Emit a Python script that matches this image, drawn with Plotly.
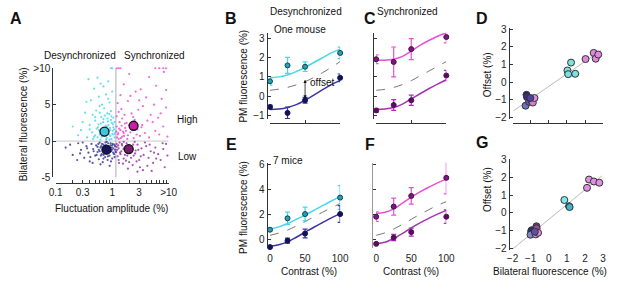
import plotly.graph_objects as go

W, H = 617, 285
def fx(p): return p / W
def fy(p): return 1 - p / H

# ---------------- DATA ----------------
# Panel A scatter (fluctuation amplitude %, bilateral fluorescence %); >10 plotted at 10
desync_high_x = [0.38,0.55,0.62,0.48,0.7,0.85,0.42,0.35,0.58,0.66,0.78,0.9,1.0,0.52,0.45,0.6,0.72,0.82,0.95,1.05,
                 0.3,0.4,0.5,0.56,0.63,0.7,0.77,0.84,0.91,0.98,1.08,0.2,0.44,0.5,0.58,0.65,0.71,0.8,0.87,0.93,
                 1.0,1.1,0.36,0.46,0.62,0.75,0.9,1.05,0.55,0.68,0.8,0.97,1.1,0.28,1.0,0.95,0.6,0.74,0.86,0.5,
                 0.62,0.67,0.73,0.76,0.81,0.88,0.92,0.97,1.02,1.07,0.53,0.57,0.69,0.83,0.89,1.03,0.48,0.6,0.78,0.95,
                 1.12,0.4,0.64,0.33,0.85,0.25]
desync_high_y = [8.5,8.7,7.9,7.2,7.5,8.2,5.6,5.4,6.1,5.0,6.4,5.3,6.8,4.2,3.6,3.9,4.5,3.8,4.1,3.2,
                 2.6,2.2,2.8,1.9,2.4,3.0,2.1,2.7,1.8,2.5,1.6,2.0,1.2,0.8,1.5,0.6,1.1,0.4,1.3,0.7,
                 1.0,0.5,0.5,0.3,0.2,0.9,0.2,1.9,0.5,1.8,1.6,3.4,2.6,1.5,10,10,4.8,3.5,2.2,3.3,
                 1.2,1.6,0.7,1.3,2.0,0.9,1.5,0.3,1.4,0.9,1.7,2.3,2.6,3.1,3.7,2.3,0.6,0.9,0.2,2.9,
                 1.1,1.6,3.3,3.9,5.8,0.8]
desync_low_x = [0.15,0.2,0.25,0.28,0.32,0.35,0.38,0.4,0.43,0.46,0.5,0.52,0.55,0.58,0.6,0.62,0.65,0.68,0.7,0.72,
                0.75,0.78,0.8,0.83,0.85,0.88,0.9,0.93,0.96,1.0,1.02,1.05,1.08,1.12,1.14,0.66,0.74,0.86,0.98,0.55,
                0.45,0.62,0.9,0.3,0.24,0.8,0.95,0.7,1.1,0.58,
                0.6,0.64,0.69,0.73,0.77,0.81,0.87,0.91,0.94,0.99,1.04,1.09,0.53,0.57,0.47,0.41,0.36,0.7,0.84,1.0,
                0.63,0.76,0.18,0.27,1.12]
desync_low_y = [-0.9,-1.9,-0.3,-1.2,-2.3,-0.7,-1.6,-2.8,-0.4,-1.1,-2.0,-0.6,-1.5,-2.5,-0.2,-0.9,-1.8,-2.9,-0.5,-1.3,
                -2.2,-0.8,-1.7,-2.6,-0.3,-1.1,-2.0,-0.6,-1.4,-2.4,-0.4,-1.0,-1.8,-0.7,-1.5,-0.4,-1.0,-1.6,-0.9,-0.8,
                -3.0,-3.2,-3.4,-0.2,-2.6,-0.1,-2.8,-1.9,-2.2,-1.2,
                -1.4,-0.7,-1.2,-1.6,-0.6,-1.3,-0.9,-1.5,-0.3,-1.2,-1.6,-0.5,-1.9,-0.4,-1.4,-2.2,-1.0,-2.4,-2.1,-0.6,
                -2.0,-0.2,-0.5,-1.7,-1.2]
sync_high_x = [1.2,1.3,1.4,5.8,6.8,8.0,9.0,2.0,4.5,8.2,1.6,3.2,6.0,1.4,2.6,4.0,
               7.5,1.25,1.9,3.5,5.5,9.0,1.3,2.2,2.9,4.8,6.5,1.5,1.8,2.5,3.4,5.2,8.0,1.2,1.4,1.7,
               2.1,2.8,3.8,1.25,1.5,1.9,2.4,3.1,4.5,6.8,1.3,1.6,2.0,9.5,1.18,1.35,
               1.22,1.28,1.33,1.42,1.47,1.55,1.62,1.68,1.75,1.85,2.2,2.35,2.7,3.3,4.2,5.8,1.2,1.45,2.1,3.0,
               7.2,9.0,1.65]
sync_high_y = [10,10,10,10,10,10,10,9.2,8.8,9.5,7.8,7.1,7.6,6.3,6.8,6.0,
               5.8,5.2,5.5,4.8,5.0,4.6,4.0,3.8,4.3,3.6,3.2,3.1,2.5,2.9,2.2,2.6,2.0,2.0,1.5,1.8,
               1.2,1.6,1.1,0.9,0.6,0.8,0.4,0.7,0.5,0.9,0.3,1.1,2.2,0.6,1.3,2.6,
               0.5,1.1,1.7,0.4,2.1,1.3,0.7,2.4,1.4,0.3,1.7,3.3,0.9,1.9,2.8,1.4,3.4,4.4,6.2,5.6,
               3.8,7.0,3.6]
sync_low_x = [1.2,1.3,1.4,1.5,1.6,1.7,1.8,1.9,2.0,2.2,2.4,2.6,2.8,3.0,3.3,3.6,4.0,4.4,4.8,5.3,
              5.8,6.5,7.2,8.0,9.0,1.25,1.45,1.65,1.85,2.1,2.3,2.7,3.1,3.5,4.2,5.0,1.18,1.35,1.55,3.8,
              6.0,8.5,2.5,1.75,1.2,1.3,
              1.22,1.28,1.38,1.48,1.58,1.68,1.78,1.95,2.15,2.35,2.55,2.9,3.2,4.6,5.5,7.8,1.32,1.9,2.8,9.5,1.6]
sync_low_y = [-0.4,-1.0,-1.8,-0.6,-2.4,-1.2,-0.3,-1.6,-2.9,-0.8,-2.0,-1.3,-0.5,-2.6,-1.0,-1.9,-0.7,-2.3,-1.4,-3.0,
              -0.9,-1.8,-2.6,-1.1,-0.4,-2.1,-1.4,-0.9,-2.0,-1.5,-3.3,-2.8,-3.6,-4.0,-3.4,-4.1,-1.5,-0.2,-3.1,-0.2,
              -2.4,-3.6,-0.1,-2.7,-0.8,-2.6,
              -1.2,-0.6,-1.6,-0.4,-1.1,-1.9,-0.7,-1.3,-2.3,-0.5,-1.7,-1.2,-2.1,-0.5,-1.6,-0.3,-3.0,-3.8,-4.2,-2.0,-0.1]
# group means
mean_x = [0.73, 0.79, 2.39, 1.96]
mean_y = [1.3, -1.18, 2.1, -1.1]
a_xticks = [0.1, 0.3, 1, 3, 10]
a_xticklabels = ['0.1', '0.3', '1', '3', '>10']
a_yticks = [-5, 0, 5, 10]
a_yticklabels = ['-5', '0', '5', '>10']

# Panels B-C-E-F: contrast responses
contrast = [0, 25, 50, 100]
fit_contrast = [0, 12.5, 25, 37.5, 50, 62.5, 75, 87.5, 100]

b_high = [0.77, 1.6, 1.53, 2.25]; b_high_err = [0.2, 0.42, 0.25, 0.3]
b_low = [-0.57, -0.88, -0.22, 0.95]; b_low_err = [0.1, 0.3, 0.15, 0.2]
b_high_fit = [0.95, 1.0, 1.1, 1.28, 1.5, 1.75, 2.0, 2.25, 2.45]
b_low_fit = [-0.7, -0.68, -0.6, -0.45, -0.22, 0.05, 0.33, 0.6, 0.82]
b_mid_fit = [0.3, 0.36, 0.45, 0.58, 0.75, 0.97, 1.22, 1.5, 1.8]

c_high = [1.92, 1.78, 2.45, 3.08]; c_high_err = [0.23, 0.78, 0.55, 0.3]
c_low = [-0.75, -0.47, -0.22, 1.07]; c_low_err = [0.1, 0.28, 0.27, 0.27]
c_high_fit = [1.88, 1.87, 1.92, 2.07, 2.35, 2.65, 2.9, 3.12, 3.3]
c_low_fit = [-0.7, -0.68, -0.6, -0.42, -0.15, 0.12, 0.38, 0.62, 0.85]
c_mid_fit = [0.3, 0.35, 0.45, 0.6, 0.8, 1.05, 1.3, 1.55, 1.8]

e_high = [0.75, 1.66, 2.0, 3.32]; e_high_err = [0.1, 0.5, 0.55, 0.95]
e_low = [-0.64, -0.13, 0.44, 2.0]; e_low_err = [0.08, 0.2, 0.35, 0.67]
e_high_fit = [0.8, 0.98, 1.25, 1.58, 1.92, 2.3, 2.68, 3.05, 3.4]
e_low_fit = [-0.58, -0.45, -0.22, 0.15, 0.55, 0.95, 1.33, 1.7, 2.04]
e_mid_fit = [0.3, 0.48, 0.72, 1.05, 1.4, 1.78, 2.15, 2.5, 2.85]

f_high = [1.79, 2.6, 3.45, 4.9]; f_high_err = [0.38, 0.68, 0.66, 1.28]
f_low = [-0.38, 0.12, 0.56, 1.79]; f_low_err = [0.08, 0.25, 0.32, 0.54]
f_high_fit = [2.05, 2.15, 2.42, 2.88, 3.35, 3.78, 4.15, 4.5, 4.8]
f_low_fit = [-0.38, -0.25, 0.05, 0.45, 0.9, 1.3, 1.66, 2.0, 2.3]
f_mid_fit = [0.3, 0.5, 0.8, 1.18, 1.58, 1.98, 2.35, 2.7, 3.0]

# Panel D (one mouse) and G (7 mice): bilateral fluorescence vs offset
d_x = [-1.28, -1.23, -1.2, -1.09, -0.97, -0.88, -0.79, -1.02, 1.03, 1.07, 1.23, 1.46, 2.03, 2.48, 2.59, 2.73]
d_y = [-1.35, -0.73, -0.86, -1.13, -1.04, -1.17, -0.91, -0.91, 0.66, 0.45, 1.11, 0.47, 1.31, 1.66, 1.33, 1.57]
d_line_x = [-1.95, 2.9]
d_line_y = [-1.64, 1.82]
g_x = [-0.97, -0.94, -1.01, -0.68, -0.67, -0.72, -0.59, -0.77, 0.86, 1.12, 1.15, 2.11, 2.22, 2.49, 2.79]
g_y = [-1.04, -0.98, -1.24, -0.76, -0.87, -1.22, -1.13, -1.07, 0.73, 0.38, 0.33, 1.42, 1.89, 1.78, 1.71]
g_line_x = [-1.98, 2.92]
g_line_y = [-2.04, 2.09]

# ---------------- STYLE ----------------
FONT = "Liberation Sans, Arial, sans-serif"
AX = '#333333'
CYAN_L, NAVY_L, MAG_L, PUR_L = '#46d6ef', '#3b34a3', '#e752d2', '#a533b3'
CYAN_M, NAVY_M, MAG_M, PUR_M = '#2a9fb3', '#121258', '#7a1a7e', '#5a0d5c'

d_colors = ['#6b74c4', '#2c2470', '#3a3090', '#7a50b0', '#9050a8', '#d080d8', '#e090e0', '#5040a0',
            '#7fe0e0', '#7fe0e0', '#7fe0e0', '#7fe0e0', '#e088e0', '#e088e0', '#e088e0', '#e088e0']
g_colors = ['#1e1e60', '#2c2a80', '#8088c8', '#8a3a8a', '#9a4a9a', '#d890d8', '#e090e0', '#6050a0',
            '#80e8e8', '#2a98aa', '#40b8c8', '#e090e0', '#e090e0', '#e090e0', '#e090e0']

fig = go.Figure()

def xax(dom, rng, pos, **kw):
    d = dict(domain=[fx(dom[0]), fx(dom[1])], range=rng, anchor='free', position=fy(pos),
             showgrid=False, zeroline=False, showline=True, linecolor=AX, linewidth=1,
             ticks='inside', ticklen=3, tickcolor=AX, tickfont=dict(size=10, family=FONT, color='#222'))
    d.update(kw)
    return d

def yax(dom, rng, pos, **kw):
    d = dict(domain=[fy(dom[1]), fy(dom[0])], range=rng, anchor='free', position=fx(pos),
             showgrid=False, zeroline=False, showline=True, linecolor=AX, linewidth=1,
             ticks='inside', ticklen=3, tickcolor=AX, tickfont=dict(size=10, family=FONT, color='#222'))
    d.update(kw)
    return d

# ---- Panel A ----
a_minor = [0.1,0.2,0.3,0.4,0.5,0.6,0.7,0.8,0.9,1,2,3,4,5,6,7,8,9,10]
a_minor_text = [a_xticklabels[a_xticks.index(v)] if v in a_xticks else '' for v in a_minor]
fig.add_trace(go.Scatter(x=[0.1, 10], y=[0, 0], mode='lines', line=dict(color='#c8c8c8', width=1),
                         xaxis='x', yaxis='y', hoverinfo='skip'))
fig.add_trace(go.Scatter(x=[1.16, 1.16], y=[-5, 10], mode='lines', line=dict(color='#c8c8c8', width=1.5),
                         xaxis='x', yaxis='y', hoverinfo='skip'))
for xs, ys, col in [(desync_high_x, desync_high_y, '#3fd3ef'), (desync_low_x, desync_low_y, '#2a2a96'),
                    (sync_high_x, sync_high_y, '#ee44d2'), (sync_low_x, sync_low_y, '#8e2a9e')]:
    fig.add_trace(go.Scatter(x=xs, y=ys, mode='markers', marker=dict(size=2.2, color=col, opacity=0.8),
                             xaxis='x', yaxis='y', cliponaxis=False))
fig.add_trace(go.Scatter(x=mean_x, y=mean_y, mode='markers',
                         marker=dict(size=9, color=['#3ec6dd', '#15155e', '#c820a8', '#7d1a72'],
                                     line=dict(color='#111', width=1.3)),
                         xaxis='x', yaxis='y', cliponaxis=False))

layout = dict(
    xaxis=xax((50, 166), [-1, 1], 185, type='log', tickvals=a_minor, ticktext=a_minor_text, ticklen=3),
    yaxis=yax((65, 179), [-5, 10], 46.5, tickvals=a_yticks, ticktext=a_yticklabels),
)

# ---- contrast panels ----
def contrast_panel(n, hi, hi_err, lo, lo_err, hi_fit, lo_fit, mid_fit, hi_col, hi_m, lo_col, lo_m, hi_edge):
    xa, ya = f'x{n}', f'y{n}'
    fig.add_trace(go.Scatter(x=fit_contrast, y=mid_fit, mode='lines', line=dict(color='#777', width=1, dash='dash'),
                             line_shape='spline', xaxis=xa, yaxis=ya))
    fig.add_trace(go.Scatter(x=fit_contrast, y=hi_fit, mode='lines', line=dict(color=hi_col, width=1.5),
                             line_shape='spline', xaxis=xa, yaxis=ya))
    fig.add_trace(go.Scatter(x=fit_contrast, y=lo_fit, mode='lines', line=dict(color=lo_col, width=1.5),
                             line_shape='spline', xaxis=xa, yaxis=ya))
    fig.add_trace(go.Scatter(x=contrast, y=hi, mode='markers', cliponaxis=False,
                             error_y=dict(type='data', array=hi_err, color=hi_col, thickness=1.2, width=2.5),
                             marker=dict(size=5, color=hi_m, line=dict(color=hi_edge, width=1)),
                             xaxis=xa, yaxis=ya))
    fig.add_trace(go.Scatter(x=contrast, y=lo, mode='markers', cliponaxis=False,
                             error_y=dict(type='data', array=lo_err, color=lo_col, thickness=1.2, width=2.5),
                             marker=dict(size=5, color=lo_m, line=dict(color=lo_m, width=1)),
                             xaxis=xa, yaxis=ya))

contrast_panel(2, b_high, b_high_err, b_low, b_low_err, b_high_fit, b_low_fit, b_mid_fit,
               CYAN_L, CYAN_M, NAVY_L, NAVY_M, '#0b4450')
contrast_panel(3, c_high, c_high_err, c_low, c_low_err, c_high_fit, c_low_fit, c_mid_fit,
               MAG_L, MAG_M, PUR_L, PUR_M, '#4a0a4a')
contrast_panel(5, e_high, e_high_err, e_low, e_low_err, e_high_fit, e_low_fit, e_mid_fit,
               CYAN_L, CYAN_M, NAVY_L, NAVY_M, '#0b4450')
contrast_panel(6, f_high, f_high_err, f_low, f_low_err, f_high_fit, f_low_fit, f_mid_fit,
               MAG_L, MAG_M, PUR_L, PUR_M, '#4a0a4a')

top_y = [-1.2, 3.3]
bot_y = [-0.74, 6.11]
layout.update(
    xaxis2=xax((270, 342), [0, 100], 122, tickvals=[0, 50, 100], showticklabels=False),
    yaxis2=yax((28, 118), top_y, 266.5, tickvals=[-1, 0, 1, 2, 3]),
    xaxis3=xax((379, 451), [0, 100], 122, tickvals=[0, 50, 100], showticklabels=False),
    yaxis3=yax((28, 118), top_y, 375.5, tickvals=[-1, 0, 1, 2, 3], showticklabels=False),
    xaxis5=xax((270, 342), [0, 100], 256, tickvals=[0, 50, 100], showline=False, ticks=''),
    yaxis5=yax((163.6, 253), bot_y, 266.5, tickvals=[0, 2, 4, 6]),
    xaxis6=xax((379, 451), [0, 100], 256, tickvals=[0, 50, 100], showline=False, ticks=''),
    yaxis6=yax((163.6, 253), bot_y, 374.5, tickvals=[0, 2, 4, 6], showticklabels=False, linecolor='#999'),
)

# ---- Panels D and G ----
for n, xs, ys, lx, ly, cols in [(4, d_x, d_y, d_line_x, d_line_y, d_colors), (7, g_x, g_y, g_line_x, g_line_y, g_colors)]:
    fig.add_trace(go.Scatter(x=lx, y=ly, mode='lines', line=dict(color='#bbbbbb', width=1),
                             xaxis=f'x{n}', yaxis=f'y{n}'))
    fig.add_trace(go.Scatter(x=xs, y=ys, mode='markers', cliponaxis=False,
                             marker=dict(size=7, color=cols, line=dict(color='#333', width=1)),
                             xaxis=f'x{n}', yaxis=f'y{n}'))

layout.update(
    xaxis4=xax((519, 612), [-2, 3], 122, tickvals=[-2, -1, 0, 1, 2, 3], showticklabels=False),
    yaxis4=yax((23, 118), [-2.11, 3.08], 515, tickvals=[-2, -1, 0, 1, 2, 3]),
    xaxis7=xax((519, 612), [-2, 3], 256, tickvals=[-2, -1, 0, 1, 2, 3], showline=False, ticks=''),
    yaxis7=yax((160, 255), [-2.12, 3.04], 515, tickvals=[-2, -1, 0, 1, 2, 3]),
)

# ---- text ----
ann = []
def txt(s, px, py, size=10, bold=False, angle=0, xanchor='center'):
    ann.append(dict(text=f'<b>{s}</b>' if bold else s, x=fx(px), y=fy(py), xref='paper', yref='paper',
                    showarrow=False, textangle=angle, xanchor=xanchor, yanchor='middle',
                    font=dict(size=size, family=FONT, color='#111')))

for s, px, py in [('A', 9, 13), ('B', 230, 13), ('C', 373, 13), ('D', 488, 13),
                  ('E', 230, 145), ('F', 373, 145), ('G', 488, 143)]:
    txt(s, px, py, size=16, bold=True)

txt('Desynchronized', 75, 52)
txt('Synchronized', 151, 52)
txt('High', 185, 118)
txt('Low', 185, 157)
txt('Fluctuation amplitude (%)', 107, 211)
txt('Bilateral fluorescence (%)', 17, 124, angle=-90)
txt('Desynchronized', 307, 6)
txt('Synchronized', 411, 6)
txt('One mouse', 272, 25, xanchor='left')
txt('offset', 309, 80, xanchor='left')
txt('7 mice', 271, 161, xanchor='left')
txt('PM fluorescence (%)', 243, 73, angle=-90)
txt('PM fluorescence (%)', 242, 210, angle=-90)
txt('Contrast (%)', 310, 277)
txt('Contrast (%)', 415, 277)
txt('Offset (%)', 494, 72, angle=-90)
txt('Offset (%)', 494, 192, angle=-90)
txt('Bilateral fluorescence (%)', 557, 277)

# offset arrow in panel B
ann.append(dict(x=50, y=0.85, ax=50, ay=-0.2, xref='x2', yref='y2', axref='x2', ayref='y2',
                showarrow=True, arrowhead=2, startarrowhead=2, arrowside='end+start',
                arrowsize=0.8, arrowwidth=0.8, arrowcolor='#111', text=''))

layout.update(annotations=ann, width=W, height=H, autosize=False, showlegend=False,
              margin=dict(l=0, r=0, t=0, b=0), paper_bgcolor='white', plot_bgcolor='white',
              font=dict(family=FONT, size=10, color='#222'))
fig.update_layout(**layout)
fig.write_html("out.html", config={'displayModeBar': False, 'staticPlot': True},
               post_script="document.body.style.margin='0';document.body.style.padding='0';"
                           "document.documentElement.style.overflow='hidden';")
